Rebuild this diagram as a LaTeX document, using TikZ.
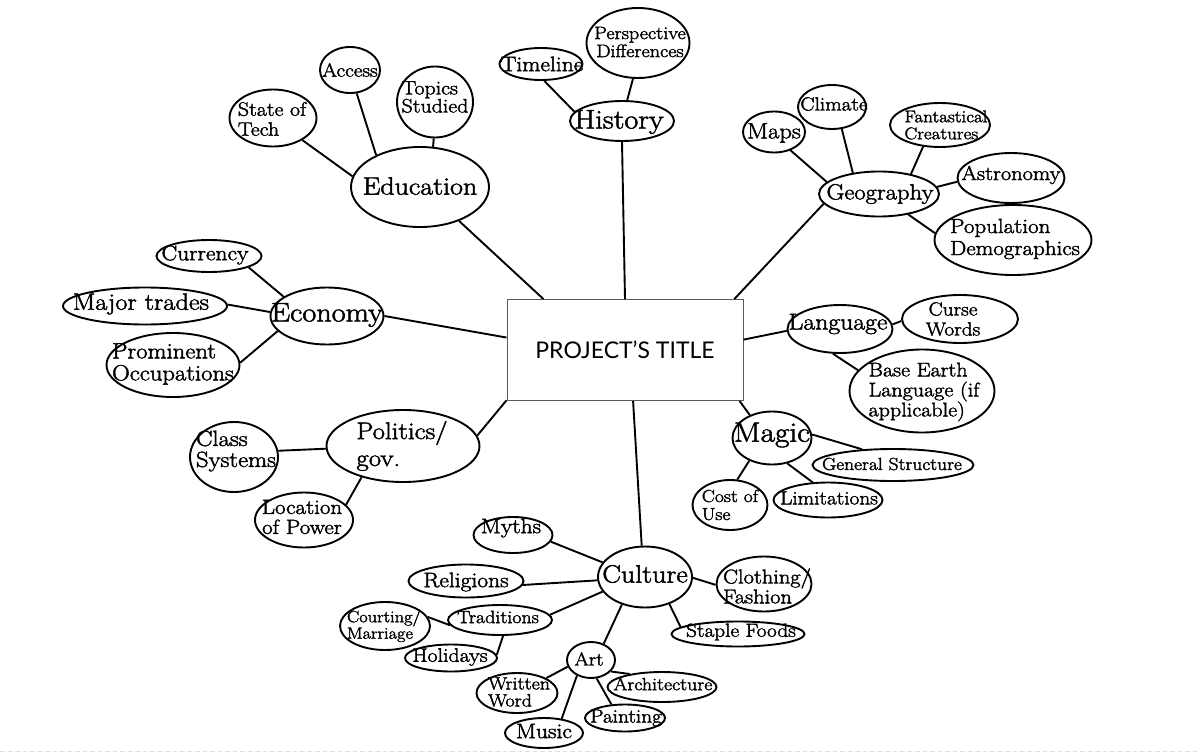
\documentclass[tikz,border=0pt]{standalone}
\usepackage{fontspec}
\newfontfamily\titlefont{Lato}
\newfontfamily\bubfont{Latin Modern Roman}[FakeStretch=1.12, FakeBold=2]
\usetikzlibrary{shapes.geometric}
\tikzset{
  bub/.style={draw, ellipse, line width=1.9pt, inner sep=0pt},
  lbl/.style 2 args={inner sep=0pt, font=\bubfont\fontsize{#1}{#2}\selectfont},
  link/.style={line width=1.9pt},
}
\begin{document}
\begin{tikzpicture}[x=1pt, y=-1pt]
        \useasboundingbox (0,0) rectangle (1197,752);

        % Central title
        \node[draw=black!65, line width=1pt, minimum width=236, minimum height=101, inner sep=0pt,
              font=\titlefont\fontsize{23}{23}\selectfont] (title) at (625,350) {PROJECT’S TITLE};

        % Education
        \node[bub, minimum width=138, minimum height=80] (edu) at (420,187) {};
        \node[lbl={25}{25}] (edu-t) at (420,186) {Education};
        \node[bub, minimum width=87, minimum height=57] (state) at (273,118) {};
        \node[lbl={19.5}{20}, align=left] (state-t) at (272,119) {State of\\Tech};
        \node[bub, minimum width=60, minimum height=46] (access) at (350,70) {};
        \node[lbl={19}{19}] (access-t) at (350,70) {Access};
        \node[bub, minimum width=76, minimum height=71] (topics) at (435,102) {};
        \node[lbl={19.5}{18}, align=left] (topics-t) at (435,97) {Topics\\Studied};

        % History
        \node[bub, minimum width=104, minimum height=40] (hist) at (622,121) {};
        \node[lbl={27}{27}] (hist-t) at (619,122) {History};
        \node[bub, minimum width=83, minimum height=32] (time) at (541,64) {};
        \node[lbl={21}{21}] (time-t) at (542,64) {Timeline};
        \node[bub, minimum width=103, minimum height=70] (persp) at (638,43) {};
        \node[lbl={18}{18}, align=center] (persp-t) at (640,42) {Perspective\\Differences};

        % Geography
        \node[bub, minimum width=120, minimum height=45] (geo) at (879,194) {};
        \node[lbl={22}{22}] (geo-t) at (880,194) {Geography};
        \node[bub, minimum width=62, minimum height=41] (maps) at (774,132) {};
        \node[lbl={22}{22}] (maps-t) at (774,133) {Maps};
        \node[bub, minimum width=68, minimum height=44] (clim) at (832,107) {};
        \node[lbl={19}{19}] (clim-t) at (834,104) {Climate};
        \node[bub, minimum width=100, minimum height=44] (fant) at (940,125) {};
        \node[lbl={17}{17}, align=left] (fant-t) at (946,125) {Fantastical\\Creatures};
        \node[bub, minimum width=107, minimum height=50] (astro) at (1011,178) {};
        \node[lbl={20}{20}] (astro-t) at (1011,175) {Astronomy};
        \node[bub, minimum width=157, minimum height=70] (pop) at (1013,240) {};
        \node[lbl={20.5}{22}, align=left] (pop-t) at (1015,239) {Population\\Demographics};

        % Economy
        \node[bub, minimum width=113, minimum height=57] (eco) at (327,316) {};
        \node[lbl={27}{27}] (eco-t) at (327,315) {Economy};
        \node[bub, minimum width=105, minimum height=32] (cur) at (209,256) {};
        \node[lbl={21}{21}] (cur-t) at (205,255) {Currency};
        \node[bub, minimum width=164, minimum height=37] (major) at (145,306) {};
        \node[lbl={23.5}{23.5}] (major-t) at (141,304) {Major trades};
        \node[bub, minimum width=133, minimum height=64] (prom) at (173,365) {};
        \node[lbl={22}{22}, align=left] (prom-t) at (173,364) {Prominent\\Occupations};

        % Politics
        \node[bub, minimum width=153, minimum height=72] (pol) at (403,446) {};
        \node[lbl={24}{27}, align=left] (pol-t) at (402,446) {Politics/\\gov.};
        \node[bub, minimum width=88, minimum height=70] (class) at (234,457) {};
        \node[lbl={22}{21}, align=left] (class-t) at (236,451) {Class\\Systems};
        \node[bub, minimum width=98, minimum height=55] (loc) at (304,520) {};
        \node[lbl={20.5}{20}, align=center] (loc-t) at (302,517) {Location\\of Power};

        % Language
        \node[bub, minimum width=105, minimum height=48] (lang) at (840,329) {};
        \node[lbl={23}{23}] (lang-t) at (838,324) {Language};
        \node[bub, minimum width=116, minimum height=48] (curse) at (960,319) {};
        \node[lbl={19}{20}, align=center] (curse-t) at (953,319) {Curse\\Words};
        \node[bub, minimum width=145, minimum height=83] (base) at (922,391) {};
        \node[lbl={19.7}{20}, align=left] (base-t) at (924,392) {Base Earth\\Language (if\\applicable)};

        % Magic
        \node[bub, minimum width=79, minimum height=53] (magic) at (772,438) {};
        \node[lbl={28}{28}] (magic-t) at (772,435) {Magic};
        \node[bub, minimum width=161, minimum height=32] (gen) at (893,465) {};
        \node[lbl={17.4}{17.4}] (gen-t) at (892,464) {General Structure};
        \node[bub, minimum width=75, minimum height=50] (cost) at (730,505) {};
        \node[lbl={17.5}{18}, align=left] (cost-t) at (730,505) {Cost of\\Use};
        \node[bub, minimum width=109, minimum height=35] (lim) at (828,500) {};
        \node[lbl={19}{19}] (lim-t) at (829,498) {Limitations};

        % Culture
        \node[bub, minimum width=94, minimum height=61] (cult) at (645,577) {};
        \node[lbl={25}{25}] (cult-t) at (645,574) {Culture};
        \node[bub, minimum width=79, minimum height=36] (myth) at (513,535) {};
        \node[lbl={21}{21}] (myth-t) at (511,528) {Myths};
        \node[bub, minimum width=115, minimum height=33] (rel) at (466,581) {};
        \node[lbl={21}{21}] (rel-t) at (466,582) {Religions};
        \node[bub, minimum width=95, minimum height=55] (cloth) at (764,584) {};
        \node[lbl={20}{18.5}, align=left] (cloth-t) at (767,586) {Clothing/\\Fashion};
        \node[bub, minimum width=133, minimum height=25] (food) at (738,634) {};
        \node[lbl={19}{19}] (food-t) at (741,632) {Staple Foods};
        \node[bub, minimum width=104, minimum height=30] (trad) at (500,620) {};
        \node[lbl={17.8}{17.8}] (trad-t) at (498,617) {Traditions};
        \node[bub, minimum width=90, minimum height=48] (court) at (385,626) {};
        \node[lbl={16.4}{16.5}, align=left] (court-t) at (384,626) {Courting/\\Marriage};
        \node[bub, minimum width=92, minimum height=27] (hol) at (451,658) {};
        \node[lbl={19.5}{19.5}] (hol-t) at (450,657) {Holidays};

        % Art
        \node[bub, minimum width=48, minimum height=36] (art) at (591,660) {};
        \node[lbl={18.5}{18.5}] (art-t) at (589,659) {Art};
        \node[bub, minimum width=81, minimum height=40] (writ) at (517,693) {};
        \node[lbl={17.8}{17}, align=left] (writ-t) at (519,692) {Written\\Word};
        \node[bub, minimum width=109, minimum height=30] (arch) at (662,687) {};
        \node[lbl={17.7}{17.7}] (arch-t) at (663,684) {Architecture};
        \node[bub, minimum width=80, minimum height=27] (paint) at (625,718) {};
        \node[lbl={19}{19}] (paint-t) at (626,718) {Painting};
        \node[bub, minimum width=78, minimum height=30] (music) at (544,733) {};
        \node[lbl={21}{21}] (music-t) at (544,731) {Music};

        % Branches to the title
        \foreach \a/\b in {edu.-41/title.148, hist.-90/title.90, geo.190/title.25, eco.0/title.174,
                           pol.8/title.203, lang.182/title.5, magic.134/title.-24, cult.96/title.-81} {
            \draw[link] (\a) -- (\b);
        }

        % Sub-topics
        \foreach \a/\b in {state.-37/edu.171, access.-74/edu.144, topics.-92/edu.72,
                           time.-79/hist.169, persp.-98/hist.76,
                           maps.-48/geo.167, clim.-66/geo.141, fant.-128/geo.32, astro.184/geo.7, pop.175/geo.-35,
                           cur.-16/eco.156, major.1/eco.176, prom.2/eco.197,
                           class.8/pol.182, loc.20/pol.217,
                           curse.182/lang.5, base.162/lang.-106,
                           gen.153/magic.5, cost.74/magic.-135, lim.131/magic.-59,
                           myth.-10/cult.161, rel.-4/cult.184, trad.6/cult.199, art.52/cult.230,
                           food.173/cult.-48, cloth.181/cult.-1,
                           court.12/trad.186, hol.4/trad.-79,
                           writ.27/art.196, music.39/art.228, paint.135/art.-73, arch.158/art.-30} {
            \draw[link] (\a) -- (\b);
        }

        % Page edge
        \draw[gray!25, line width=1pt, dash pattern=on 4.5pt off 3pt] (0,751) -- (1197,751);
\end{tikzpicture}
\end{document}
